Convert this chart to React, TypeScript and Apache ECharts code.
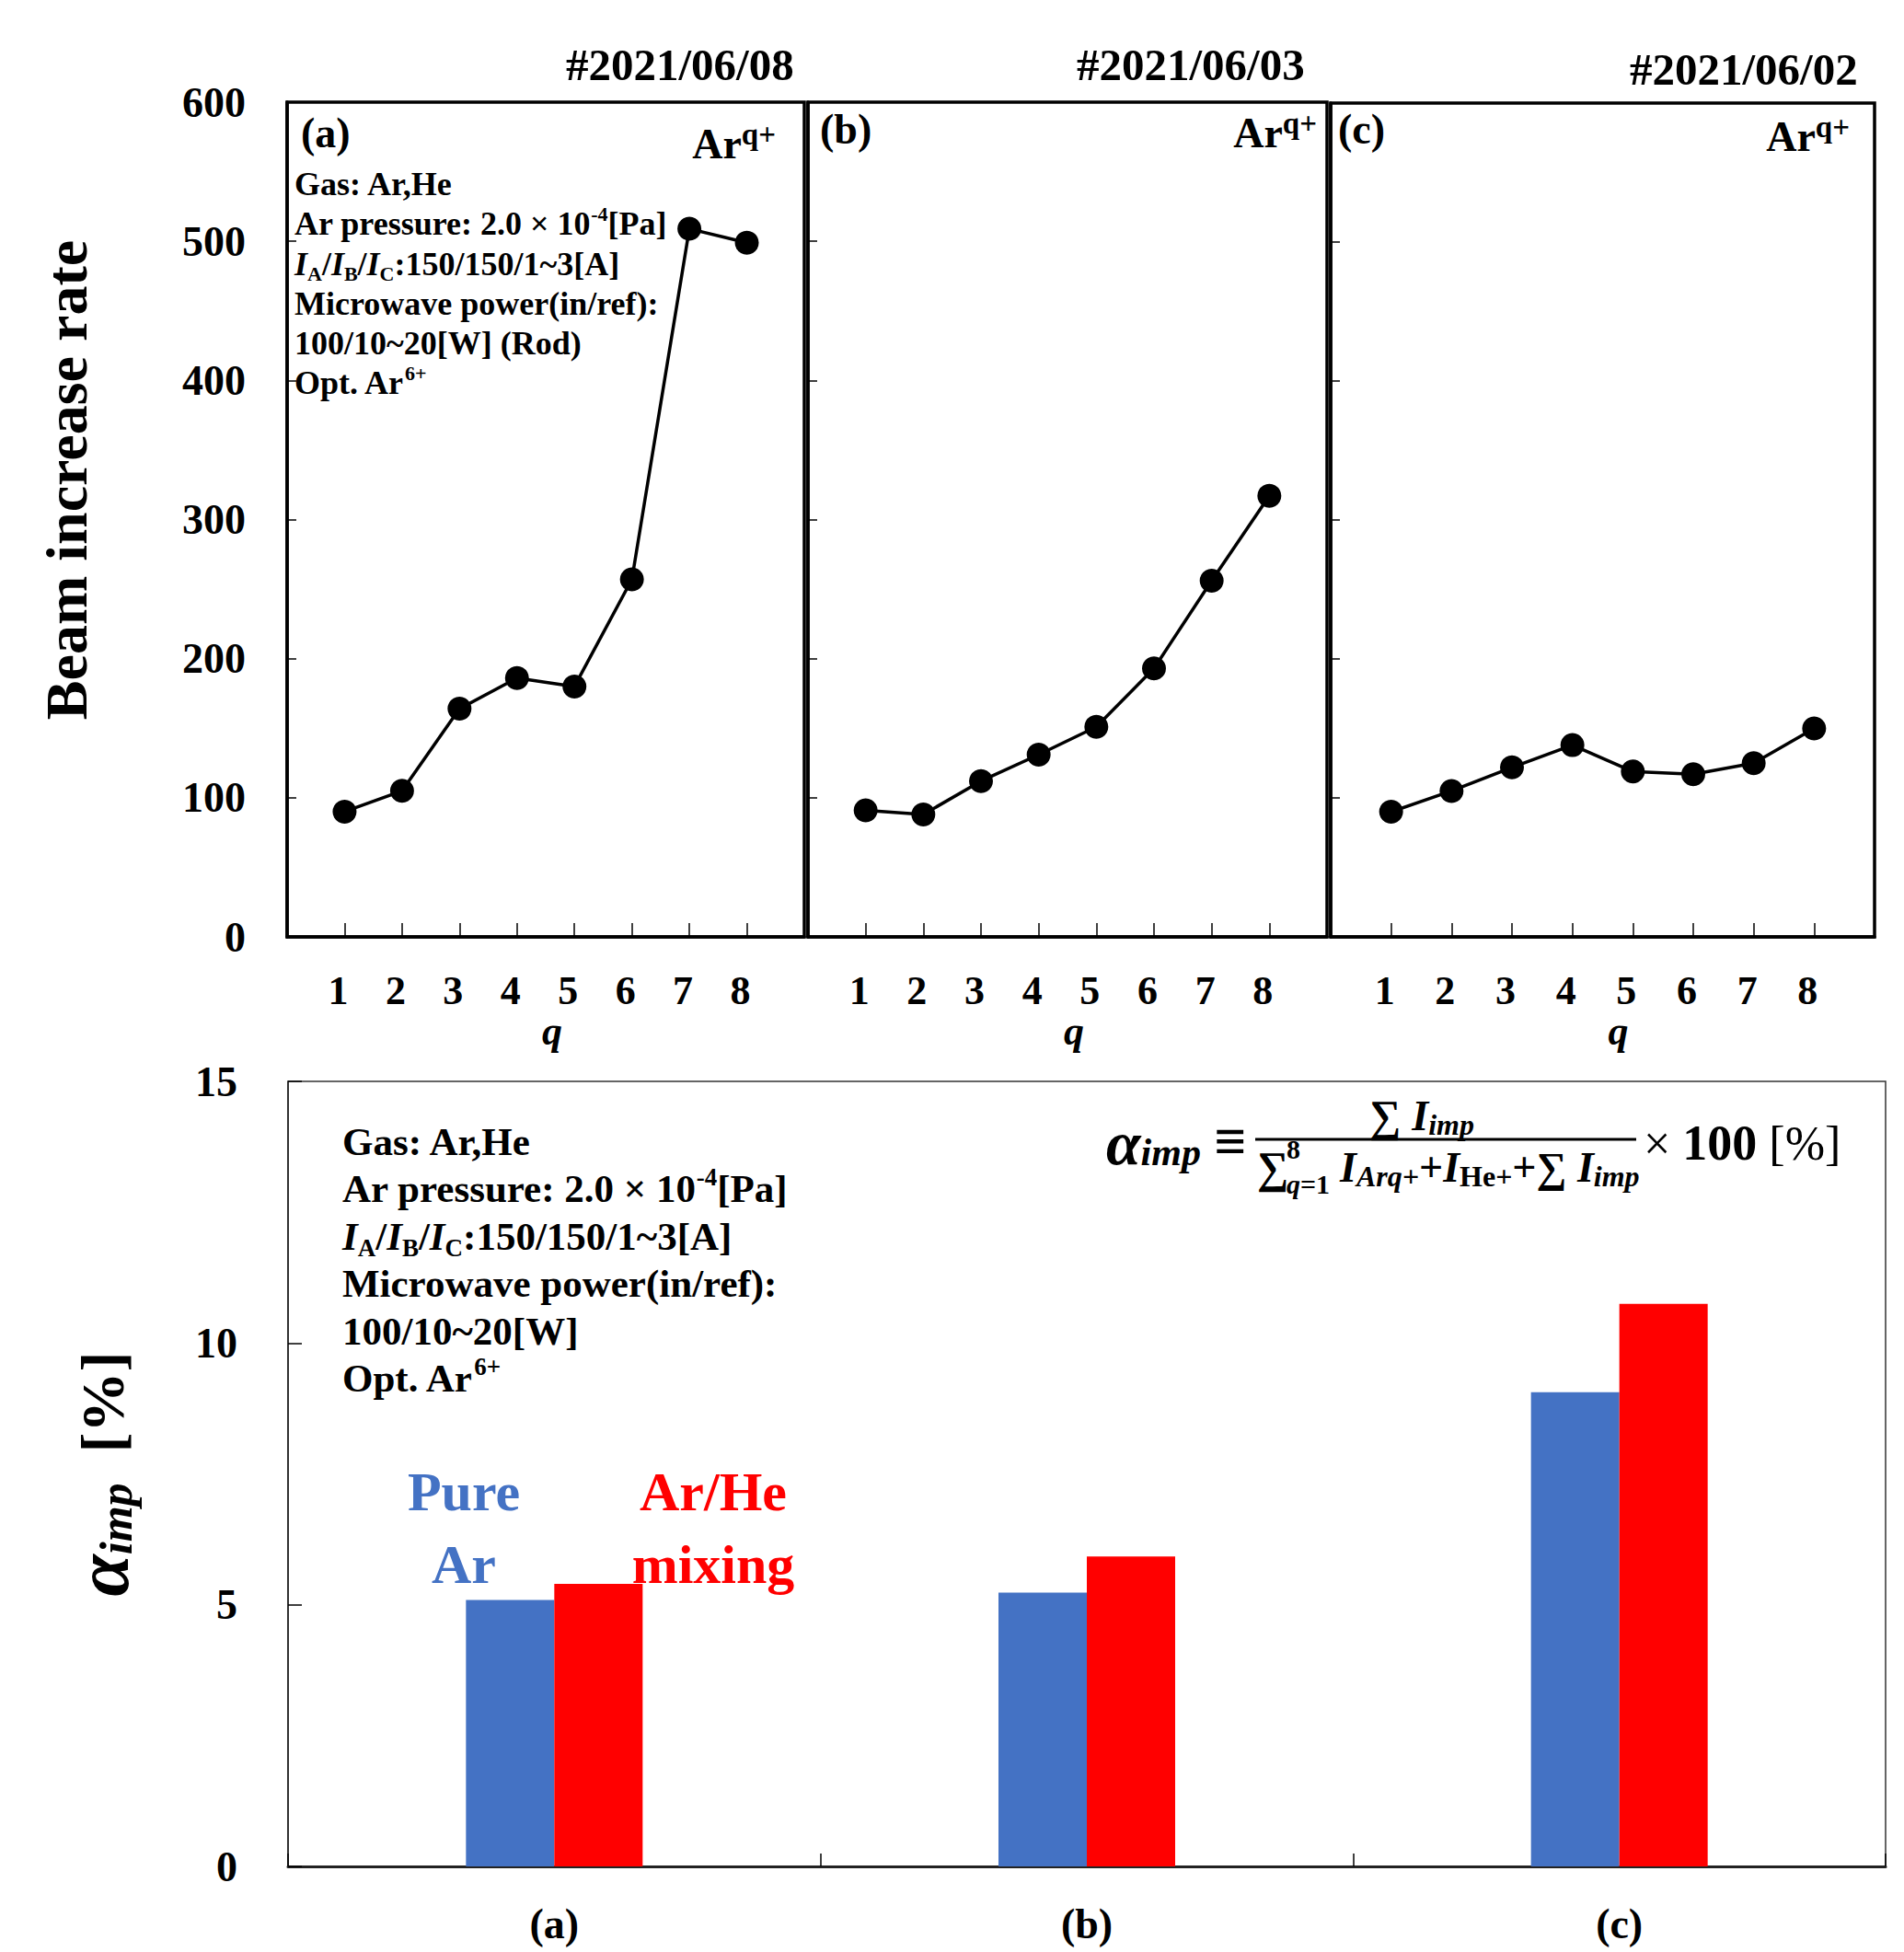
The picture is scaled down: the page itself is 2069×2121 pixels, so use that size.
import React, { useEffect, useRef } from "react";
import * as echarts from "echarts";

const FONT = "'Liberation Serif', 'Times New Roman', serif";

// ---- data ----
const chargeStates = [1, 2, 3, 4, 5, 6, 7, 8];
const rateA = [90, 105, 164, 186, 180, 257, 509, 499];
const rateB = [91, 88, 112, 131, 151, 193, 256, 317];
const rateC = [90, 105, 122, 138, 119, 117, 125, 150];
const panelLabels = ["(a)", "(b)", "(c)"];
const shotDates = ["#2021/06/08", "#2021/06/03", "#2021/06/02"];
const rateRange = [0, 600];
const rateStep = 100;
const alphaCategories = ["(a)", "(b)", "(c)"];
const alphaPureAr = [5.09, 5.23, 9.06];
const alphaArHe = [5.4, 5.92, 10.75];
const alphaRange = [0, 15];
const alphaStep = 5;

const rateSeries = [rateA, rateB, rateC];

function rich(F: number, L: number, color = "#000", supScale = 0.62) {
  const s = Math.round(F * supScale);
  const base = { fontFamily: FONT, fontWeight: "bold", fill: color, color };
  return {
    n: { ...base, fontSize: F, lineHeight: L },
    i: { ...base, fontSize: F, lineHeight: L, fontStyle: "italic" },
    r: { ...base, fontSize: F, lineHeight: L, fontWeight: "normal" },
    sup: { ...base, fontSize: s, lineHeight: s, verticalAlign: "top" },
    sub: { ...base, fontSize: s, lineHeight: s, verticalAlign: "bottom" },
    isub: { ...base, fontSize: s, lineHeight: s, verticalAlign: "bottom", fontStyle: "italic" },
  };
}

function txt(x: number, y: number, text: string, r: any, align = "left", extra: any = {}) {
  return {
    type: "text",
    x,
    y,
    silent: true,
    style: {
      text,
      rich: r,
      align,
      textAlign: align,
      verticalAlign: "middle",
      textVerticalAlign: "middle",
      fill: "#000",
      fontFamily: FONT,
      ...extra,
    },
  };
}

export default function App() {
  const ref = useRef<HTMLDivElement>(null);

  useEffect(() => {
    if (!ref.current) return;
    const chart = echarts.init(ref.current, null, { renderer: "svg" });

    const topGrids = [
      { left: 312, top: 111, width: 562, height: 907 },
      { left: 878, top: 111, width: 564, height: 907 },
      { left: 1446, top: 112, width: 591, height: 906 },
    ];
    const bottomGrid = { left: 313, top: 1175, width: 1736, height: 853 };

    const grids = [
      ...topGrids.map((g) => ({ ...g, show: true, borderColor: "#000", borderWidth: 3.5, backgroundColor: "transparent" })),
      { ...bottomGrid, show: true, borderColor: "#333", borderWidth: 1.5, backgroundColor: "transparent" },
    ];

    const labelStyle = { fontFamily: FONT, fontWeight: "bold", color: "#000" };

    const xAxes: any[] = topGrids.map((_, i) => ({
      gridIndex: i,
      type: "value",
      min: 0,
      max: chargeStates.length + 1,
      interval: 1,
      showMinLabel: false,
      showMaxLabel: false,
      axisLine: { show: true, lineStyle: { color: "#000", width: 3.5 } },
      axisTick: { show: true, inside: true, length: 15, lineStyle: { color: "#000", width: 1.5 } },
      axisLabel: {
        ...labelStyle,
        fontSize: 44,
        margin: 36,
        padding: [0, 14, 0, 0],
        formatter: (v: number) => (chargeStates.includes(v) ? String(v) : ""),
      },
      splitLine: { show: false },
      name: "q",
      nameLocation: "middle",
      nameGap: 68,
      nameTextStyle: { ...labelStyle, fontSize: 44, fontStyle: "italic", padding: [0, 0, 0, i === 2 ? 34 : 14] },
    }));
    xAxes.push({
      gridIndex: 3,
      type: "category",
      data: alphaCategories,
      axisLine: { show: true, lineStyle: { color: "#222", width: 3 } },
      axisTick: { show: true, inside: true, length: 14, lineStyle: { color: "#000", width: 1.5 } },
      axisLabel: { ...labelStyle, fontSize: 46, margin: 39 },
    });

    const yAxes: any[] = topGrids.map((_, i) => ({
      gridIndex: i,
      type: "value",
      min: rateRange[0],
      max: rateRange[1],
      interval: rateStep,
      axisLine: { show: true, lineStyle: { color: "#000", width: 3.5 } },
      axisTick: { show: true, inside: true, length: 10, lineStyle: { color: "#000", width: 1.5 } },
      axisLabel: { show: i === 0, ...labelStyle, fontSize: 46, margin: 45 },
      splitLine: { show: false },
      ...(i === 0
        ? {
            name: "Beam increase rate",
            nameLocation: "middle",
            nameGap: 208,
            nameRotate: 90,
            nameTextStyle: { ...labelStyle, fontSize: 64, padding: [0, 0, 0, 86] },
          }
        : {}),
    }));
    yAxes.push({
      gridIndex: 3,
      type: "value",
      min: alphaRange[0],
      max: alphaRange[1],
      interval: alphaStep,
      axisLine: { show: true, lineStyle: { color: "#222", width: 1.5 } },
      axisTick: { show: true, inside: true, length: 15, lineStyle: { color: "#000", width: 1.5 } },
      axisLabel: { ...labelStyle, fontSize: 46, margin: 55 },
      splitLine: { show: false },
      name: "{a|α}{s|imp}{b|  [%]}",
      nameLocation: "middle",
      nameGap: 162,
      nameRotate: 90,
      nameTextStyle: {
        rich: {
          a: { fontFamily: FONT, fontSize: 82, fontStyle: "italic", fontWeight: "bold", color: "#000", lineHeight: 80 },
          s: { fontFamily: FONT, fontSize: 50, fontStyle: "italic", fontWeight: "bold", color: "#000", lineHeight: 48, verticalAlign: "bottom" },
          b: { fontFamily: FONT, fontSize: 66, fontWeight: "bold", color: "#000", lineHeight: 80 },
        },
      },
    });

    const series: any[] = rateSeries.map((vals, i) => ({
      name: panelLabels[i],
      type: "line",
      xAxisIndex: i,
      yAxisIndex: i,
      data: chargeStates.map((q, k) => [q, vals[k]]),
      symbol: "circle",
      symbolSize: 26,
      lineStyle: { color: "#000", width: 3.5 },
      itemStyle: { color: "#000" },
    }));
    series.push(
      {
        name: "Pure Ar",
        type: "bar",
        xAxisIndex: 3,
        yAxisIndex: 3,
        data: alphaPureAr,
        barWidth: 96,
        barGap: "0%",
        itemStyle: { color: "#4472C4" },
      },
      {
        name: "Ar/He mixing",
        type: "bar",
        xAxisIndex: 3,
        yAxisIndex: 3,
        data: alphaArHe,
        barWidth: 96,
        barGap: "0%",
        itemStyle: { color: "#FF0000" },
      }
    );

    const titles = [
      { text: shotDates[0], left: 615, top: 46 },
      { text: shotDates[1], left: 1170, top: 46 },
      { text: shotDates[2], left: 1771, top: 51 },
    ].map((t) => ({ ...t, padding: 0, textStyle: { ...labelStyle, fontSize: 49 } }));

    const R36 = rich(36, 43);
    const R43 = rich(43, 52);
    const R46 = rich(46, 54);
    const RAr = rich(46, 54, "#000", 0.72);
    const RB = rich(60, 70, "#4472C4");
    const RR = rich(60, 70, "#FF0000");

    const infoTop = [
      "{n|Gas: Ar,He}",
      "{n|Ar pressure: 2.0 × 10}{sup|-4}{n|[Pa]}",
      "{i|I}{sub|A}{n|/}{i|I}{sub|B}{n|/}{i|I}{sub|C}{n|:150/150/1~3[A]}",
      "{n|Microwave power(in/ref):}",
      "{n|100/10~20[W] (Rod)}",
      "{n|Opt. Ar}{sup|6+}",
    ];
    const infoBottom = [
      "{n|Gas: Ar,He}",
      "{n|Ar pressure: 2.0 × 10}{sup|-4}{n|[Pa]}",
      "{i|I}{sub|A}{n|/}{i|I}{sub|B}{n|/}{i|I}{sub|C}{n|:150/150/1~3[A]}",
      "{n|Microwave power(in/ref):}",
      "{n|100/10~20[W]}",
      "{n|Opt. Ar}{sup|6+}",
    ];
    const topY = [200, 243, 287, 330, 373, 416];
    const botY = [1240, 1291, 1343, 1394, 1446, 1497];

    const graphics: any[] = [];
    // panel labels
    graphics.push(txt(327, 144, "{n|" + panelLabels[0] + "}", R46));
    graphics.push(txt(891, 140, "{n|" + panelLabels[1] + "}", R46));
    graphics.push(txt(1454, 140, "{n|" + panelLabels[2] + "}", R46));
    // Ar^q+
    const arX = [843, 1431, 2010];
    const arY = [156, 144, 148];
    arX.forEach((x, i) => graphics.push(txt(x, arY[i], "{n|Ar}{sup|q+}", RAr, "right")));
    infoTop.forEach((line, i) => graphics.push(txt(320, topY[i], line, R36)));
    infoBottom.forEach((line, i) => graphics.push(txt(372, botY[i], line, R43)));
    // bar annotations
    graphics.push(txt(504, 1621, "{n|Pure}", RB, "center"));
    graphics.push(txt(504, 1700, "{n|Ar}", RB, "center"));
    graphics.push(txt(775, 1621, "{n|Ar/He}", RR, "center"));
    graphics.push(txt(775, 1700, "{n|mixing}", RR, "center"));

    // formula
    const FR = {
      a: { fontFamily: FONT, fontSize: 68, fontStyle: "italic", fontWeight: "bold", fill: "#000", lineHeight: 62 },
      big: { fontFamily: FONT, fontSize: 48, fontWeight: "bold", fill: "#000", lineHeight: 52 },
      i: { fontFamily: FONT, fontSize: 46, fontStyle: "italic", fontWeight: "bold", fill: "#000", lineHeight: 52 },
      n: { fontFamily: FONT, fontSize: 46, fontWeight: "bold", fill: "#000", lineHeight: 52 },
      r: { fontFamily: FONT, fontSize: 52, fontWeight: "normal", fill: "#000", lineHeight: 54 },
      eq: { fontFamily: FONT, fontSize: 62, fontWeight: "bold", fill: "#000", lineHeight: 62 },
      b: { fontFamily: FONT, fontSize: 54, fontWeight: "bold", fill: "#000", lineHeight: 54 },
      s: { fontFamily: FONT, fontSize: 32, fontStyle: "italic", fontWeight: "bold", fill: "#000", lineHeight: 32, verticalAlign: "bottom" },
      t: { fontFamily: FONT, fontSize: 32, fontWeight: "bold", fill: "#000", lineHeight: 32, verticalAlign: "bottom" },
      sa: { fontFamily: FONT, fontSize: 42, fontStyle: "italic", fontWeight: "bold", fill: "#000", lineHeight: 40, verticalAlign: "bottom" },
      small: { fontFamily: FONT, fontSize: 30, fontWeight: "bold", fill: "#000", lineHeight: 30 },
      smalli: { fontFamily: FONT, fontSize: 30, fontStyle: "italic", fontWeight: "bold", fill: "#000", lineHeight: 30 },
    };
    graphics.push(txt(1202, 1242, "{a|α}{sa|imp}", FR));
    graphics.push(txt(1337, 1240, "{eq|≡}", FR, "center"));
    graphics.push(txt(1545, 1212, "{big|∑ }{i|I}{s|imp}", FR, "center"));
    graphics.push({
      type: "line",
      silent: true,
      shape: { x1: 1364, y1: 1238, x2: 1778, y2: 1238 },
      style: { stroke: "#000", lineWidth: 3 },
    });
    graphics.push(txt(1366, 1268, "{big|∑}", FR));
    graphics.push(txt(1398, 1248, "{small|8}", FR));
    graphics.push(txt(1398, 1286, "{smalli|q}{small|=1}", FR));
    graphics.push(txt(1456, 1268, "{i|I}{s|Arq+}{n|+}{i|I}{t|He+}{n|+∑ }{i|I}{s|imp}", FR));
    graphics.push(txt(1786, 1242, "{r|× }{b|100}{r| [%]}", FR));

    chart.setOption({
      animation: false,
      backgroundColor: "#fff",
      title: titles,
      grid: grids,
      xAxis: xAxes,
      yAxis: yAxes,
      series,
      graphic: { elements: graphics },
    });

    return () => chart.dispose();
  }, []);

  return <div ref={ref} style={{ position: "absolute", left: 0, top: 0, width: 2069, height: 2121 }} />;
}
